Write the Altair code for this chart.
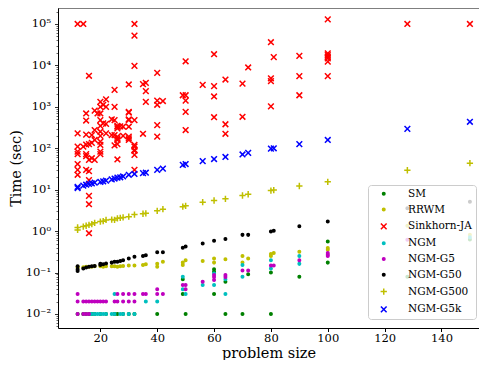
import altair as alt
import pandas as pd

methods = ["SM", "RRWM", "Sinkhorn-JA", "NGM", "NGM-G5", "NGM-G50", "NGM-G500", "NGM-G5k"]
colors = ["#008000", "#bfbf00", "#ff0000", "#00bfbf", "#bf00bf", "#000000", "#bfbf00", "#0000ff"]
DOT = "M-0.42,0A0.42,0.42,0,1,0,0.42,0A0.42,0.42,0,1,0,-0.42,0Z"
XMK = "M-0.95,-0.95L0.95,0.95M-0.95,0.95L0.95,-0.95"
PLUS = "M-1.05,0L1.05,0M0,-1.05L0,1.05"
shapes = [DOT, DOT, XMK, DOT, DOT, DOT, PLUS, XMK]
fills = [c if s == DOT else "transparent" for c, s in zip(colors, shapes)]

# values: problem size and log10(time in seconds)
sm_size = [12, 14, 15, 16, 17, 18, 20, 22, 25, 26, 28, 30, 32, 40, 50, 64, 70, 80,
           49, 49, 60, 60, 60, 64, 72, 80, 90, 100, 100, 128, 150]
sm_log = [-2.0] * 18 + [-1.16, -1.52, -0.92, -0.98, -1.52, -1.22, -1.04, -1.00, -1.10,
                        -0.25, -0.76, -1.10, -0.20]

rrwm_size = [12, 12, 14, 15, 16, 17, 18, 20, 21, 22, 24, 25, 26, 27, 28, 30, 32, 35, 36,
             40, 40, 42, 49, 49, 50, 56, 60, 60, 64, 70, 70, 72, 80, 80, 81, 90, 100, 100, 128, 150]
rrwm_log = [-0.86, -0.88, -0.87, -0.86, -0.86, -0.86, -0.85, -0.85, -0.86, -0.85, -0.85,
            -0.85, -0.86, -0.85, -0.84, -0.83, -0.83, -0.82, -0.80, -0.79, -0.86, -0.74,
            -0.76, -0.82, -0.70, -0.72, -0.66, -0.76, -0.68, -0.60, -0.76, -0.66, -0.55,
            -0.60, -0.53, -0.50, -0.41, -0.45, 0.13, -0.09]

sk_size = ([12] * 8 + [14] * 2 + [15] * 7 + [16] * 8 + [17] * 3 + [18] * 4 + [19] + [20] * 11
           + [21] * 2 + [22] * 4 + [24] * 2 + [25] * 5 + [26] * 8 + [27] + [28] * 2 + [30] * 9
           + [32] * 10 + [35] * 2 + [36] * 3 + [40] * 5 + [42] + [49] + [50] * 5 + [56]
           + [60] * 4 + [64] * 3 + [70] * 2 + [72] + [80] * 4 + [81] + [90] * 3 + [100] * 7
           + [128] + [150])
sk_log = [5.0, 2.36, 2.04, 1.92, 1.86, 1.62, 1.48, 1.36,
          5.0, 2.04,
          2.84, 2.67, 2.33, 2.09, 1.86, 1.81, 1.48,
          3.75, 2.10, 1.72, 1.45, 1.23, 0.85, 0.65, -0.05,
          2.32, 2.13, 1.76,
          2.91, 2.44, 2.20, 1.72,
          2.84,
          3.12, 3.00, 2.84, 2.68, 2.54, 2.40, 2.30, 2.16, 2.08, 1.92, 1.86,
          3.05, 2.60,
          3.18, 3.00, 2.59, 2.36,
          2.32, 2.70,
          3.41, 3.00, 2.68, 2.32, 2.07,
          2.52, 2.48, 2.28, 2.24, 2.10, 1.73, 2.54, 2.20,
          2.53,
          2.52, 2.30,
          3.54, 2.88, 2.68, 2.52, 2.28, 2.24, 2.86, 2.70, 2.20,
          5.0, 4.72, 3.99, 2.68, 2.04, 1.94, 1.84, 1.96, 1.48, 2.08,
          3.55, 2.35,
          3.58, 3.38, 3.12,
          3.82, 3.15, 3.05, 2.56, 2.28,
          3.14,
          3.28,
          4.10, 3.28, 3.15, 2.88, 2.44,
          3.53,
          4.27, 3.50, 3.25, 2.75,
          3.66, 2.58, 2.35,
          3.56, 2.76,
          3.95,
          4.56, 3.69, 3.62, 3.01,
          4.20,
          4.23, 3.74, 3.28,
          5.11, 4.29, 4.25, 4.21, 4.17, 4.09, 3.74,
          5.0,
          5.0]

ngm_size = [17, 18, 19, 20, 21, 22, 24, 25, 27, 28, 30, 32, 36, 40, 25,
            49, 49, 50, 56, 60, 60, 64, 64, 70, 70, 80, 80, 90, 90, 150]
ngm_log = [-2.0] * 12 + [-1.70, -1.70, -1.52,
                         -1.10, -1.40, -1.52, -1.30, -1.02, -1.30, -1.16, -1.52, -0.82, -1.10,
                         -0.70, -0.90, -0.60, -0.79, -0.15]

g5_size = [12, 12, 12, 14, 14, 15, 15, 16, 16, 17, 18, 19, 20, 21, 22, 25, 26, 26, 28, 28,
           30, 30, 32, 32, 35, 36, 40, 40, 42, 49, 50, 50, 56, 60, 60, 60, 64, 64, 70, 72,
           80, 81, 90, 100, 100, 100, 128]
g5_log = [-1.52, -1.70, -2.0, -2.0, -1.70, -2.0, -1.70, -2.0, -1.70, -1.70, -1.70, -1.70,
          -1.70, -1.70, -1.70, -1.70, -1.70, -1.52, -1.70, -1.52, -1.70, -1.52, -1.70, -1.52,
          -1.52, -1.52, -1.52, -1.40, -1.52, -1.30, -1.30, -1.40, -1.22, -1.06, -1.11, -1.18,
          -1.06, -1.11, -0.95, -0.95, -0.83, -0.83, -0.70, -0.53, -0.57, -0.60, -0.21]

g50_size = [12, 12, 12, 14, 15, 16, 17, 18, 20, 20, 21, 22, 24, 25, 26, 27, 28, 30, 32, 35,
            36, 40, 42, 49, 50, 56, 60, 64, 70, 72, 80, 81, 90, 100, 128, 150]
g50_log = [-0.92, -0.96, -0.85, -0.90, -0.88, -0.86, -0.85, -0.84, -0.79, -0.82, -0.80,
           -0.78, -0.76, -0.74, -0.74, -0.72, -0.70, -0.66, -0.62, -0.60, -0.58, -0.51,
           -0.51, -0.40, -0.37, -0.30, -0.23, -0.19, -0.09, -0.09, -0.01, 0.01, 0.12, 0.23,
           0.55, 0.71]

g500_size = [12, 12, 14, 15, 16, 17, 18, 20, 21, 22, 24, 25, 26, 27, 28, 30, 32, 35, 36,
             40, 42, 49, 50, 56, 60, 64, 70, 72, 80, 81, 90, 100, 128, 150]
g500_log = [0.09, 0.03, 0.11, 0.13, 0.15, 0.17, 0.20, 0.23, 0.24, 0.27, 0.28, 0.27, 0.31,
            0.32, 0.33, 0.35, 0.40, 0.42, 0.43, 0.49, 0.53, 0.59, 0.61, 0.70, 0.74, 0.78,
            0.86, 0.89, 0.98, 0.99, 1.09, 1.19, 1.47, 1.64]

g5k_size = [12, 12, 14, 15, 16, 17, 18, 20, 21, 22, 24, 25, 26, 27, 28, 30, 32, 35, 36,
            40, 42, 49, 50, 56, 60, 64, 70, 72, 80, 81, 90, 100, 128, 150]
g5k_log = [1.07, 1.04, 1.10, 1.12, 1.14, 1.15, 1.17, 1.19, 1.20, 1.22, 1.25, 1.27, 1.29,
           1.30, 1.32, 1.36, 1.38, 1.40, 1.41, 1.48, 1.51, 1.60, 1.62, 1.69, 1.74, 1.79,
           1.85, 1.89, 1.99, 2.00, 2.10, 2.20, 2.47, 2.64]

series = [(sm_size, sm_log), (rrwm_size, rrwm_log), (sk_size, sk_log), (ngm_size, ngm_log),
          (g5_size, g5_log), (g50_size, g50_log), (g500_size, g500_log), (g5k_size, g5k_log)]
rows = []
for name, (sz, lg) in zip(methods, series):
    for s, l in zip(sz, lg):
        rows.append({"method": name, "size": s, "time": 10 ** l})
df = pd.DataFrame(rows)

majors = [0.01, 0.1, 1, 10, 100, 1000, 10000, 100000]
major_lbl = ["10⁻²", "10⁻¹", "10⁰", "10¹", "10²", "10³", "10⁴", "10⁵"]
ymin, ymax = 10 ** -2.338, 10 ** 5.386
yvals = []
for e in range(-3, 6):
    for k in range(1, 10):
        v = majors[e + 2] * k if 0 <= e + 2 < len(majors) else k * 10.0 ** e
        if ymin <= v <= ymax:
            yvals.append(v)
label_expr = "".join(f"datum.value == {m} ? '{t}' : " for m, t in zip(majors, major_lbl)) + "''"
major_test = "indexof([" + ",".join(str(m) for m in majors) + "], datum.value) >= 0"

FONT = "DejaVu Serif"
W, H = 421, 320

points = alt.Chart(df).mark_point(filled=False, size=36, strokeWidth=1.5, opacity=1).encode(
    x=alt.X("size:Q",
            scale=alt.Scale(domain=[5.1, 153.2], nice=False, zero=False),
            axis=alt.Axis(values=[20, 40, 60, 80, 100, 120, 140], title="problem size",
                          titleY=29.5, titleBaseline="alphabetic", tickSize=3.5,
                          labelPadding=1, grid=False)),
    y=alt.Y("time:Q",
            scale=alt.Scale(type="log", domain=[ymin, ymax], nice=False),
            axis=alt.Axis(values=yvals, labelExpr=label_expr, labelOverlap=False,
                          tickSize={"condition": {"test": major_test, "value": 3.5}, "value": 2},
                          tickWidth={"condition": {"test": major_test, "value": 0.8}, "value": 0.6},
                          labelPadding=4, title="Time (sec)", titleX=-42, titleY=160,
                          titleAngle=270, titleBaseline="middle", titleAlign="center",
                          grid=False)),
    color=alt.Color("method:N", title=None,
                    scale=alt.Scale(domain=methods, range=colors),
                    legend=alt.Legend(orient="none", legendX=310, legendY=177,
                                      fillColor="rgba(255,255,255,0.8)", strokeColor="#cccccc",
                                      cornerRadius=3, padding=3.5, rowPadding=4.8,
                                      labelOffset=19, symbolOffset=7, symbolSize=36,
                                      symbolStrokeWidth=1.5, labelFont=FONT,
                                      labelFontSize=10.5, labelColor="black")),
    shape=alt.Shape("method:N", title=None,
                    scale=alt.Scale(domain=methods, range=shapes)),
    fill=alt.Fill("method:N", title=None,
                  scale=alt.Scale(domain=methods, range=fills)),
)

frame_top = alt.Chart(pd.DataFrame({"k": [0]})).mark_rule(color="black", strokeWidth=1).encode(
    x=alt.value(0), x2=alt.value(W), y=alt.value(0)
)

chart = alt.layer(points, frame_top).properties(
    width=W, height=H, autosize="none",
    padding={"left": 50, "top": 0, "right": 0, "bottom": 32},
).configure_view(
    strokeOpacity=0
).configure_axis(
    labelFont=FONT, titleFont=FONT, labelFontSize=11.5, titleFontSize=14.5,
    labelColor="black", titleColor="black", titleFontWeight="normal",
    domainColor="black", tickColor="black", domainWidth=1
)

chart.save("out.html", embed_options={"renderer": "svg", "actions": False})
